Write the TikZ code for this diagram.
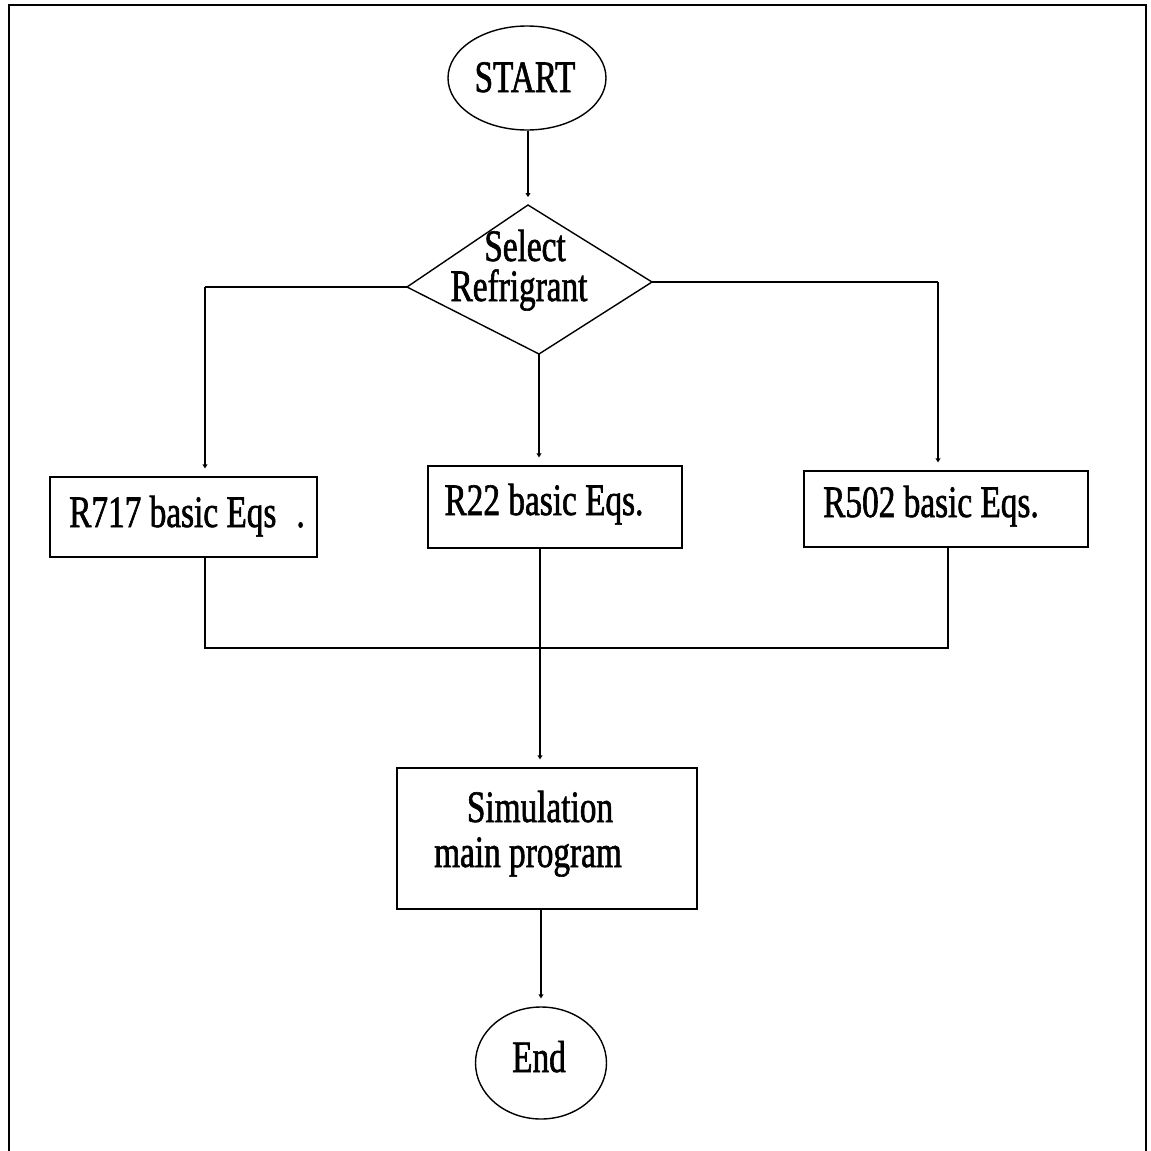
\documentclass[tikz,border=0pt]{standalone}
\usepackage{fontspec}
\setmainfont{Liberation Serif}
\newfontfamily\condfont[FakeStretch=0.74,FakeBold=1.3]{Liberation Serif}
\usetikzlibrary{shapes.geometric,arrows.meta}
\begin{document}
\begin{tikzpicture}[x=1pt,y=-1pt,
  boxshape/.style={draw, line width=1.4pt, inner sep=0pt},
  ovalshape/.style={draw, ellipse, line width=1.4pt, inner sep=0pt},
  lbl/.style={font=\condfont\fontsize{45}{40}\selectfont, anchor=base, inner sep=0pt, align=center},
  wire/.style={line width=1.2pt},
  feed/.style={line width=2.2pt, -{Latex[length=12pt,width=4pt]}},
]
\useasboundingbox (0,0) rectangle (1151,1151);
\fill[white] (0,0) rectangle (1151,1151);
% frame
\draw[line width=2pt] (9,1151) -- (9,5) -- (1146,5) -- (1146,1151);

% START
\node[ovalshape, minimum width=158pt, minimum height=104pt] (start) at (527,78) {};
\node[lbl] (starttxt) at (525,92) {START};

% Select diamond
\coordinate (dT) at (528,205);
\coordinate (dR) at (652,282);
\coordinate (dB) at (539,354);
\coordinate (dL) at (407,287);
\draw[line width=1.4pt] (dT) -- (dR) -- (dB) -- (dL) -- cycle;
\node[lbl] (seltxt) at (519,301) {\hspace{12pt}Select\\Refrigrant};

% boxes
\node[boxshape, minimum width=267pt, minimum height=80pt] (r717) at (183.5,517) {};
\node[lbl] (r717txt) at (187,527) {R717 basic Eqs\hspace{20pt}.};
\node[boxshape, minimum width=254pt, minimum height=82pt] (r22) at (555,507) {};
\node[lbl] (r22txt) at (544,515) {R22 basic Eqs.};
\node[boxshape, minimum width=284pt, minimum height=76pt] (r502) at (946,509) {};
\node[lbl] (r502txt) at (931,517) {R502 basic Eqs.};
\node[boxshape, minimum width=300pt, minimum height=141pt] (sim) at (547,838.5) {};
\node[lbl] (simtxt1) at (540,822) {Simulation};
\node[lbl] (simtxt2) at (528,867) {main program};

% End
\node[ovalshape, minimum width=131pt, minimum height=112pt] (end) at (541,1063) {};
\node[lbl] (endtxt) at (539,1072) {End};

% connectors
\draw[feed] (start.south -| dT) -- (dT);
\coordinate (lc) at (205,287);
\coordinate (rc) at (938,282);
\draw[wire] (dL) -- (lc);
\draw[feed] (lc) -- (lc |- r717.north);
\draw[wire] (dR) -- (rc);
\draw[feed] (rc) -- (rc |- r502.north);
\draw[feed] (dB) -- (dB |- r22.north);
\coordinate (jl) at (205,648);
\coordinate (jr) at (948,648);
\draw[wire] (jl |- r717.south) -- (jl) -- (jr) -- (jr |- r502.south);
\coordinate (mid) at (540,548);
\draw[feed] (mid) -- (mid |- sim.north);
\draw[feed] (sim.south -| end.north) -- (end.north);
\end{tikzpicture}
\end{document}
